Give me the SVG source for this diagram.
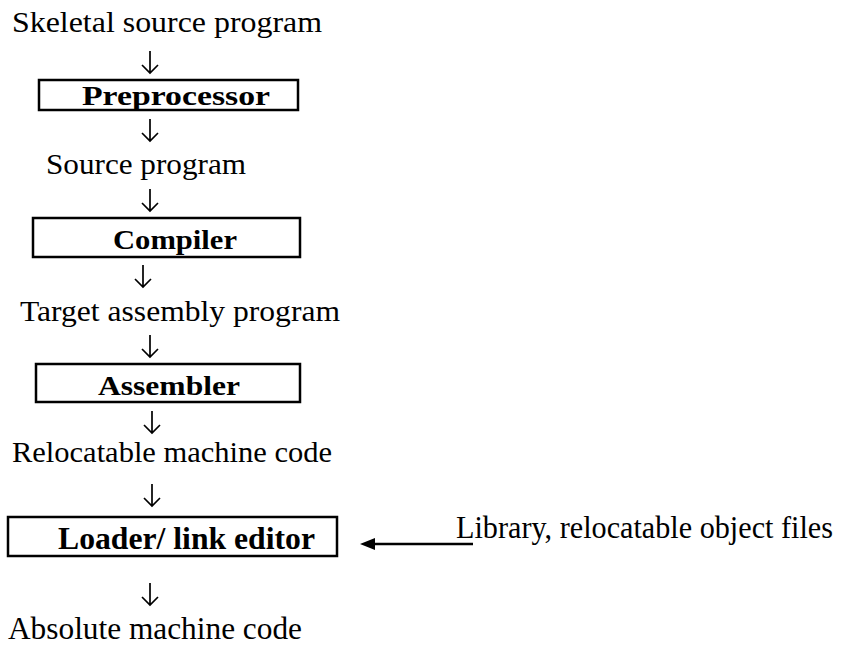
<svg xmlns="http://www.w3.org/2000/svg" width="842" height="648" viewBox="0 0 842 648">
<style>
.t{font-family:"Liberation Serif","DejaVu Serif",serif;font-size:29px;fill:#000}
.b{font-family:"Liberation Serif","DejaVu Serif",serif;font-size:28px;font-weight:bold;fill:#000}
.n{font-size:31px}
.box{fill:#fff;stroke:#000;stroke-width:2.5}
.ar{fill:none;stroke:#000;stroke-width:1.7}
</style>
<rect width="842" height="648" fill="#fff"/>
<g id="connectors">
<path class="ar" d="M150,51V73M142,65L150,73L158,65"/>
<path class="ar" d="M150,119V141M142,133L150,141L158,133"/>
<path class="ar" d="M150,189V211M142,203L150,211L158,203"/>
<path class="ar" d="M143,265V287M135,279L143,287L151,279"/>
<path class="ar" d="M150,335V357M142,349L150,357L158,349"/>
<path class="ar" d="M152,411V433M144,425L152,433L160,425"/>
<path class="ar" d="M152,484V506M144,498L152,506L160,498"/>
<path class="ar" d="M150,583V605M142,597L150,605L158,597"/>
<line x1="473" y1="544" x2="372" y2="544" stroke="#000" stroke-width="2.5"/>
<polygon points="360,544 375,538 375,550" fill="#000"/>
</g>
<g id="skeletal"><text class="t" x="12" y="32" textLength="310" lengthAdjust="spacingAndGlyphs">Skeletal source program</text></g>
<g id="preprocessor"><rect class="box" x="39" y="80" width="259" height="30"/><text class="b" x="82" y="105" textLength="188" lengthAdjust="spacingAndGlyphs">Preprocessor</text></g>
<g id="source"><text class="t" x="46" y="174" textLength="200" lengthAdjust="spacingAndGlyphs">Source program</text></g>
<g id="compiler"><rect class="box" x="33" y="218" width="267" height="39"/><text class="b" x="113" y="249" textLength="124" lengthAdjust="spacingAndGlyphs">Compiler</text></g>
<g id="target"><text class="t" x="20" y="321" textLength="320" lengthAdjust="spacingAndGlyphs">Target assembly program</text></g>
<g id="assembler"><rect class="box" x="36" y="364" width="264" height="38"/><text class="b" x="98" y="395" textLength="142" lengthAdjust="spacingAndGlyphs">Assembler</text></g>
<g id="relocatable"><text class="t" x="12" y="462" textLength="320" lengthAdjust="spacingAndGlyphs">Relocatable machine code</text></g>
<g id="loader"><rect class="box" x="8" y="517" width="329" height="39"/><text class="b n" x="58" y="549" textLength="257" lengthAdjust="spacingAndGlyphs">Loader/ link editor</text></g>
<g id="library"><text class="t n" x="456" y="538" textLength="377" lengthAdjust="spacingAndGlyphs">Library, relocatable object files</text></g>
<g id="absolute"><text class="t n" x="8" y="639" textLength="294" lengthAdjust="spacingAndGlyphs">Absolute machine code</text></g>
</svg>
